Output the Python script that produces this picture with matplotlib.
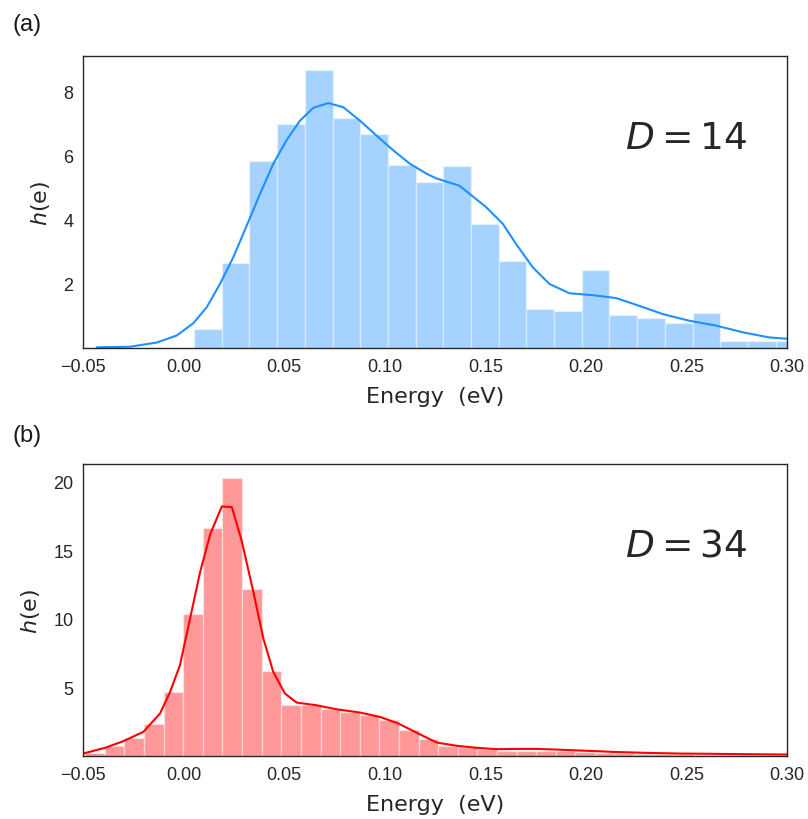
import numpy as np
import seaborn as sns
from matplotlib import pyplot as plt

# (a) D = 14 histogram
a_bin_start = 0.0052
a_bin_width = 0.01377
a_heights = [0.58, 2.67, 5.83, 7.00, 8.69, 7.18, 6.69, 5.73, 5.19, 5.67, 3.88,
             2.71, 1.21, 1.16, 2.43, 1.04, 0.93, 0.77, 1.10, 0.21, 0.21, 0.21]
a_kde_x = [-0.0432, -0.0266, -0.0134, -0.0034, 0.0048, 0.0115, 0.0181, 0.0247,
           0.0314, 0.038, 0.0446, 0.0513, 0.0579, 0.0645, 0.072, 0.0794, 0.0877,
           0.096, 0.1043, 0.1126, 0.1209, 0.1255, 0.1371, 0.1504, 0.1587, 0.1653,
           0.1736, 0.1819, 0.1918, 0.2034, 0.215, 0.225, 0.2382, 0.2515, 0.2647,
           0.278, 0.2912, 0.3078]
a_kde_y = [0.02, 0.04, 0.17, 0.39, 0.77, 1.27, 2.0, 2.83, 3.82, 4.81, 5.75, 6.5,
           7.10, 7.5, 7.65, 7.52, 7.10, 6.63, 6.17, 5.75, 5.44, 5.30, 5.07, 4.40,
           3.88, 3.25, 2.52, 2.0, 1.71, 1.65, 1.56, 1.35, 1.06, 0.85, 0.70, 0.49,
           0.33, 0.25]

# (b) D = 34
b_bin_start = -0.0489
b_bin_width = 0.00975
b_heights = [0.20, 0.74, 1.33, 2.37, 4.68, 10.39, 16.63, 20.28, 12.16, 6.21, 3.75,
             3.70, 3.41, 3.22, 2.98, 2.61, 1.88, 1.23, 0.74, 0.67, 0.50, 0.40,
             0.40, 0.40, 0.35, 0.30, 0.23, 0.20, 0.18, 0.15, 0.12, 0.10, 0.10,
             0.08, 0.06, 0.05]
b_kde_x = [-0.0499, -0.039, -0.03, -0.02, -0.0117, -0.0067, -0.0018, 0.0032,
           0.0082, 0.0133, 0.019, 0.024, 0.0289, 0.0347, 0.0397, 0.0446, 0.0504,
           0.0562, 0.0662, 0.0761, 0.0877, 0.0977, 0.1068, 0.1167, 0.1259, 0.1361,
           0.1458, 0.1557, 0.1657, 0.1756, 0.1855, 0.1971, 0.2062, 0.2135, 0.2302,
           0.2468, 0.263, 0.283, 0.30]
b_kde_y = [0.18, 0.60, 1.08, 1.76, 3.1, 4.68, 6.62, 10.0, 13.4, 16.2, 18.2, 18.16,
           15.7, 11.97, 8.56, 6.13, 4.56, 3.90, 3.70, 3.41, 3.17, 2.85, 2.37, 1.64,
           0.98, 0.74, 0.60, 0.50, 0.52, 0.52, 0.47, 0.40, 0.35, 0.30, 0.23, 0.18,
           0.16, 0.13, 0.11]

xticks = [-0.05, 0.0, 0.05, 0.10, 0.15, 0.20, 0.25, 0.30]

sns.set_style('white')
plt.rcParams['font.family'] = ['DejaVu Sans']

fig = plt.figure(figsize=(8.08, 8.2), dpi=100)


def panel(rect, start, width, heights, kx, ky, color, yticks, ylim, label, tag, tag_y):
    ax = fig.add_axes(rect)
    edges = start + width * np.arange(len(heights))
    ax.bar(edges, heights, width=width, align='edge', color=color, alpha=0.4,
           edgecolor='white', linewidth=1)
    ax.plot(kx, ky, color=color, lw=1.5)
    ax.set_xlim(-0.05, 0.30)
    ax.set_ylim(*ylim)
    ax.set_xticks(xticks)
    ax.set_xticklabels(['%.2f' % t if t >= 0 else '\u2212%.2f' % -t for t in xticks],
                       family='Liberation Sans', fontsize=13, color='.15')
    ax.set_yticks(yticks)
    ax.set_yticklabels([str(t) for t in yticks], family='Liberation Sans',
                       fontsize=13, color='.15')
    ax.tick_params(length=0, pad=7)
    ax.set_xlabel('Energy  (eV)', fontsize=16, color='.15', labelpad=8)
    ax.set_ylabel('$h$(e)', fontsize=16, color='.15', labelpad=8)
    for s in ax.spines.values():
        s.set_color('.15')
        s.set_linewidth(1)
    ax.text(0.857, 0.72, label, transform=ax.transAxes, fontsize=27,
            ha='center', va='center', color='.15')
    fig.text(0.015, tag_y, tag, family='Liberation Sans', fontsize=17,
             va='center', color='.1')
    return ax


panel([0.1027, 0.5744, 0.8713, 0.3561], a_bin_start, a_bin_width, a_heights,
      a_kde_x, a_kde_y, 'dodgerblue', [2, 4, 6, 8], (0, 9.12), '$D = 14$', '(a)', 0.969)
panel([0.1027, 0.0768, 0.8713, 0.3561], b_bin_start, b_bin_width, b_heights,
      b_kde_x, b_kde_y, 'red', [5, 10, 15, 20], (0, 21.3), '$D = 34$', '(b)', 0.468)

fig.savefig('out.png', dpi=100)
